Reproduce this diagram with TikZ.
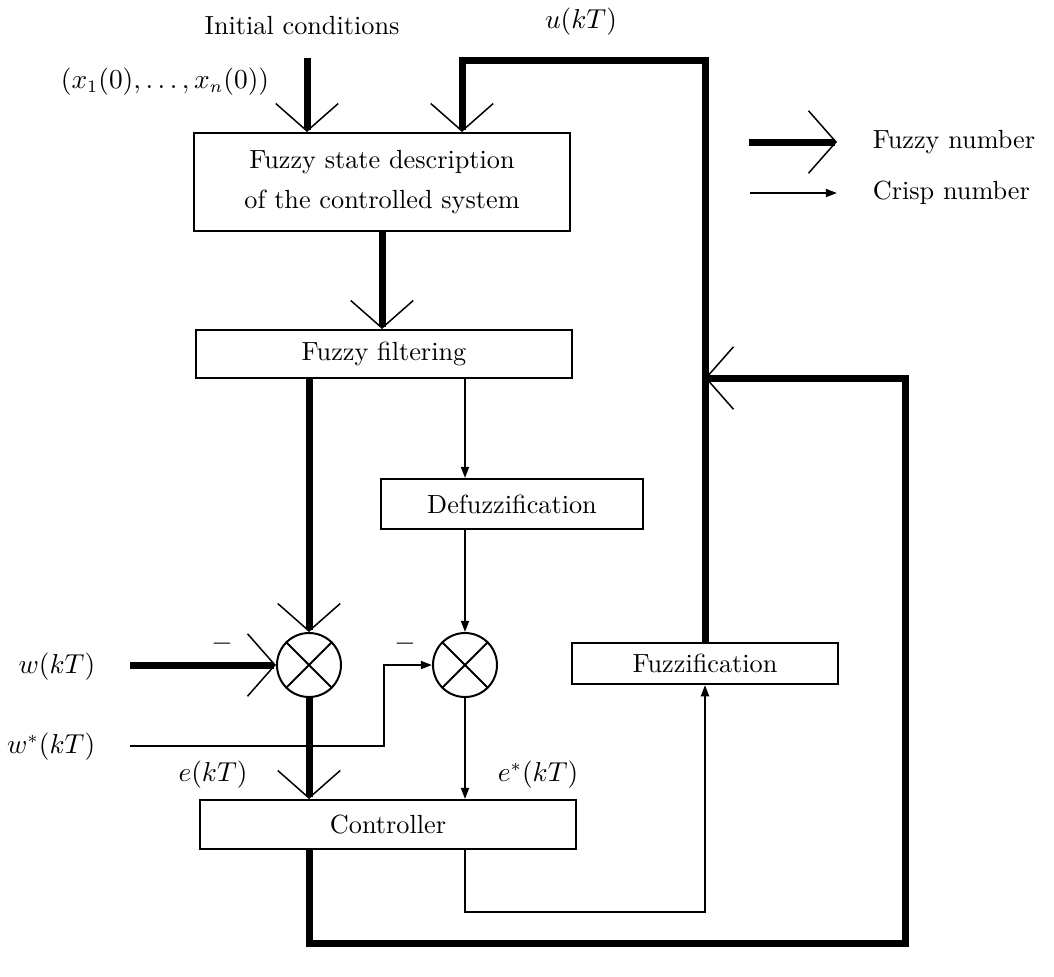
\documentclass[tikz,border=0pt]{standalone}
\usepackage{amsmath}
\usepackage{tikz}
\usetikzlibrary{arrows.meta, positioning, calc}

\begin{document}
\begin{tikzpicture}[x=0.4pt, y=-0.4pt, font=\fontsize{10.5}{13}\selectfont,
  bx/.style={rectangle, draw, line width=0.8pt, inner sep=0pt, align=center},
  mx/.style={circle, draw, line width=0.8pt, inner sep=0pt, minimum size=25.6pt},
  fz/.style={line width=2.8pt, -{Straight Barb[length=11pt, width=25pt, line width=0.6pt]}},
  cr/.style={line width=0.8pt, -{Triangle[length=4.5pt, width=3.2pt]}}]
\useasboundingbox (0,0) rectangle (1054,976);

% blocks
\node[bx, minimum width=150.4pt, minimum height=39.2pt, font=\fontsize{10.5}{16}\selectfont] (state) at (382,182)
  {Fuzzy state description\\of the controlled system};
\node[bx, minimum width=150.4pt, minimum height=19.2pt] (filt) at (384,354) {Fuzzy filtering};
\node[bx, minimum width=104.8pt, minimum height=20pt] (defz) at (512,504) {Defuzzification};
\node[bx, minimum width=150.4pt, minimum height=19.6pt] (ctrl) at (388,824.5) {Controller};
\node[bx, minimum width=106.4pt, minimum height=16.4pt] (fuzz) at (705,663.5) {Fuzzification};
\node[mx] (mix1) at (309,665) {};
\node[mx] (mix2) at (465,665) {};
\foreach \m in {mix1,mix2} {
  \draw[line width=0.8pt] (\m.45) -- (\m.225) (\m.135) -- (\m.-45);
}

% labels
\node (ictext) at (302,26) {Initial conditions};
\node (x0) at (165,82) {$(x_1(0),\ldots,x_n(0))$};
\node (ulab) at (581,22) {$u(kT)$};
\node[anchor=east] (wlab) at (104,667) {$w(kT)$};
\node[anchor=east] (wslab) at (104,747) {$w^*(kT)$};
\node (elab) at (213,775) {$e(kT)$};
\node (eslab) at (538,775) {$e^*(kT)$};
\node (neg1) at (222,644) {$-$};
\node (neg2) at (405,644) {$-$};

\coordinate (ic) at (307,58);
\coordinate (ut) at (462,60);
\coordinate (win) at (130,665);
\coordinate (wsin) at (130,746);
\coordinate (fb) at (905,378);
\coordinate (fbb) at (905,943);

% crisp signals
\draw[cr] (mix2 |- filt.south) -- (mix2 |- defz.north);
\draw[cr] (mix2 |- defz.south) -- (mix2.north);
\draw[cr] (wsin) -- ++(254,0) |- (mix2.west);
\draw[cr] (mix2.south) -- (mix2 |- ctrl.north);
\draw[cr] (mix2 |- ctrl.south) -- ++(0,62) -| (fuzz.south);

% fuzzy signals
\draw[fz] (ic) -- (ic |- state.north);
\draw[fz] (fuzz.north) |- (ut) -- (ut |- state.north);
\draw[fz] (state.south) -- (state.south |- filt.north);
\draw[fz] (mix1 |- filt.south) -- (mix1.north);
\draw[fz] (win) -- (mix1.west);
\draw[fz] (mix1.south) -- (mix1 |- ctrl.north);
\draw[fz] (mix1 |- ctrl.south) |- (fbb) -- (fb) -- (fuzz |- fb);

% legend
\coordinate (lf1) at (749,142);
\coordinate (lf2) at (837,142);
\coordinate (lc1) at (750,193);
\coordinate (lc2) at (837,193);
\node[anchor=west] (fznum) at (864,142) {Fuzzy number};
\node[anchor=west] (crnum) at (864,193) {Crisp number};
\draw[fz] (lf1) -- (lf2);
\draw[cr] (lc1) -- (lc2);
\end{tikzpicture}
\end{document}
